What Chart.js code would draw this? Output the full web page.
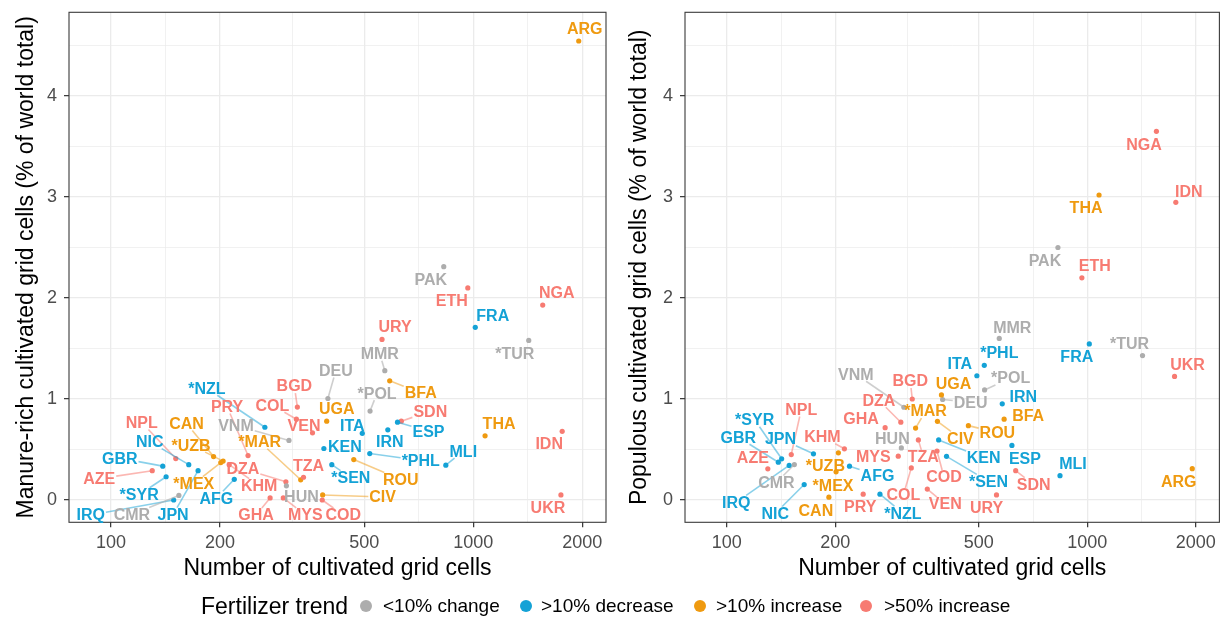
<!DOCTYPE html>
<html>
<head>
<meta charset="utf-8">
<script src="https://cdn.jsdelivr.net/npm/chart.js@4.4.1/dist/chart.umd.min.js"></script>
<style>
  html, body { margin: 0; padding: 0; background: #fff; overflow: hidden; }
  body { width: 1221px; height: 636px; position: relative; font-family: "Liberation Sans", Arial, sans-serif; }
  canvas { position: absolute; top: 0; }
  #manure-chart { left: 0; }
  #populous-chart { left: 612px; }
  #legend { position: absolute; left: 0; top: 593px; width: 1221px; height: 26px; }
  #legend span { position: absolute; top: 0; line-height: 26px; white-space: nowrap; }
  #legend .title { font-size: 23px; color: #000; }
  #legend .item { font-size: 19px; color: #000; }
  #legend .dot { width: 12px; height: 12px; border-radius: 50%; top: 7px; }
</style>
</head>
<body>
<canvas id="manure-chart" width="612" height="600"></canvas>
<canvas id="populous-chart" width="610" height="600"></canvas>
<div id="legend"></div>
<script>
// ---- data ----
const countries = ["ARG", "PAK", "ETH", "NGA", "FRA", "URY", "*TUR", "MMR", "DEU", "*NZL",
  "BGD", "*POL", "BFA", "PRY", "COL", "UGA", "SDN", "NPL", "CAN", "VNM",
  "VEN", "ITA", "THA", "ESP", "NIC", "*UZB", "*MAR", "KEN", "IRN", "IDN",
  "*PHL", "MLI", "GBR", "DZA", "TZA", "*SEN", "ROU", "AZE", "*MEX", "KHM",
  "HUN", "CIV", "*SYR", "AFG", "UKR", "IRQ", "CMR", "JPN", "GHA", "MYS", "COD"];

const cells = [1955, 829, 966, 1555, 1013, 560, 1423, 570, 397, 266,
  327, 519, 588, 239, 325, 394, 633, 151, 192, 310,
  360, 494, 1078, 618, 164, 204, 334, 387, 581, 1760,
  518, 840, 139, 304, 340, 407, 468, 130, 201, 212,
  305, 384, 142, 219, 1746, 149, 154, 174, 275, 299, 383];

// index into trendLabels
const trend = [2, 0, 3, 3, 1, 3, 0, 0, 0, 1,
  3, 0, 2, 3, 3, 2, 3, 3, 2, 0,
  3, 1, 2, 1, 1, 2, 2, 1, 1, 3,
  1, 1, 1, 3, 3, 1, 2, 3, 2, 3,
  0, 2, 1, 1, 3, 1, 0, 1, 3, 3, 3];

const manureShare = [4.545, 2.31, 2.10, 1.93, 1.71, 1.59, 1.58, 1.28, 1.005, 0.72,
  0.92, 0.88, 1.18, 0.44, 0.80, 0.78, 0.78, 0.41, 0.43, 0.59,
  0.665, 0.66, 0.635, 0.77, 0.35, 0.385, 0.20, 0.51, 0.695, 0.68,
  0.46, 0.345, 0.335, 0.18, 0.225, 0.35, 0.40, 0.29, 0.37, 0.35,
  0.14, 0.05, 0.23, 0.205, 0.05, 0.0, 0.045, 0.29, 0.02, 0.02, 0.0];

const populousShare = [0.31, 2.50, 2.20, 3.65, 1.545, 0.05, 1.43, 1.60, 0.995, 0.057,
  1.0, 1.09, 0.80, 0.057, 0.317, 1.04, 0.29, 0.45, 0.028, 0.918,
  0.108, 1.23, 3.02, 0.54, 0.153, 0.467, 0.712, 0.595, 0.952, 2.947,
  1.333, 0.241, 0.374, 0.77, 0.595, 0.432, 0.736, 0.309, 0.279, 0.507,
  0.515, 0.779, 0.408, 0.335, 1.223, 0.342, 0.351, 0.457, 0.716, 0.434, 0.485];

const trendLabels = ["<10% change", ">10% decrease", ">10% increase", ">50% increase"];
const xTickLabels = [100, 200, 500, 1000, 2000];
const yTickLabels = [0, 1, 2, 3, 4];

// ---- label placement (pixel offsets of each label from its point) ----
const manureLabelOffsets = [[6, -12], [-13, 13], [-16, 13], [14, -12], [17.5, -12], [13, -13], [-14, 13], [-5, -17], [8, -28], [-58, -39],
  [-3, -21], [7, -18], [31, 12], [-21, -49], [-24, -14], [10, -13], [29, -10], [-34, -36], [-27, -33], [-53, -15],
  [-8.5, -7], [-10, -8], [14, -12], [31, 9], [-39, -23], [-32, -16], [-41, -38], [21, -2], [2, 12], [-13, 12],
  [51, 7], [17.5, -14], [-43, -8], [-43, -13], [5, -12], [19, 13], [47, 20], [-53, 8], [-27, 21], [30, 21],
  [15, 10.5], [60, 2], [-27, 18], [-18, 19], [-13, 13], [-83, 15], [-47, 19], [-25, 44], [-14, 17], [22, 17], [21, 15]];

const populousLabelOffsets = [[-13.6, 12.7], [-13, 13], [13, -12], [-12.5, 13], [-12.5, 13], [-10, 12.7], [-13, -12], [13, -11], [28, 3], [23, 19],
  [-2, -18], [26, -12], [24, -4], [-3, 12], [-8, 27], [12, -11], [18, 14], [10, -45], [-13, 13], [-48, -33],
  [18, 15], [-17, -12], [-13, 13], [13, 13], [-29, 29], [-13, 13], [10, -17], [45, 18], [21, -7], [13, -11],
  [15, -13], [13, -12], [-40, -25], [-22, -22], [5, 17], [42, 25], [29, 7], [-15, -11], [-3, 14], [-22, -12],
  [-9, -9], [23, 17], [-27, -39], [28, 9], [13, -12], [-53, 37], [-18, 18], [-33, -15], [-24, -9], [-25, 0], [7, 26]];

// ---- styles ----
const trendColors = ["#ADADAD", "#14A2D6", "#EF9A10", "#F77B72"];
const segmentColors = ["rgba(173,173,173,0.6)", "rgba(20,162,214,0.5)", "rgba(239,154,16,0.5)", "rgba(247,123,114,0.55)"];
const FONT = '"Liberation Sans", Arial, sans-serif';

const xMinor = xTickLabels.slice(1).map((v, i) => Math.sqrt(v * xTickLabels[i]));
const yMinor = yTickLabels.map(v => v + 0.5);
const xTickValues = [...xTickLabels, ...xMinor].sort((a, b) => a - b);
const yTickValues = [...yTickLabels, ...yMinor].sort((a, b) => a - b);

// fixed axis box, no extra padding for edge tick labels
function fixAxis(ax, size) {
  if (ax.isHorizontal()) ax.height = size; else ax.width = size;
  ax.paddingTop = 0;
  ax.paddingBottom = 0;
  ax.paddingLeft = 0;
  ax.paddingRight = 0;
}

// panel border + country labels with leader segments
const repelLabels = {
  id: "repelLabels",
  beforeDatasetsDraw(chart) {
    const { ctx, chartArea: a } = chart;
    ctx.save();
    ctx.strokeStyle = "#3a3a3a";
    ctx.lineWidth = 1.1;
    ctx.strokeRect(a.left, a.top, a.right - a.left, a.bottom - a.top);
    ctx.restore();
  },
  afterDatasetsDraw(chart, args, opts) {
    const ctx = chart.ctx;
    const pts = chart.getDatasetMeta(0).data;
    ctx.save();
    ctx.font = "bold 16px " + FONT;
    ctx.textAlign = "center";
    ctx.textBaseline = "middle";
    const boxes = pts.map((p, i) => {
      const [dx, dy] = opts.offsets[i];
      const w = ctx.measureText(countries[i]).width;
      return { cx: p.x + dx, cy: p.y + dy, hw: w / 2 + 1, hh: 7 };
    });
    // segments first
    boxes.forEach((b, i) => {
      const p = pts[i];
      const vx = p.x - b.cx, vy = p.y - b.cy;
      const tx = Math.abs(vx) > 0 ? b.hw / Math.abs(vx) : Infinity;
      const ty = Math.abs(vy) > 0 ? b.hh / Math.abs(vy) : Infinity;
      const t = Math.min(tx, ty);
      if (t >= 1) return;
      const sx = b.cx + vx * t, sy = b.cy + vy * t;
      if (Math.hypot(p.x - sx, p.y - sy) < 10) return;
      ctx.strokeStyle = segmentColors[trend[i]];
      ctx.lineWidth = 1.6;
      ctx.beginPath();
      ctx.moveTo(sx, sy);
      ctx.lineTo(p.x, p.y);
      ctx.stroke();
    });
    boxes.forEach((b, i) => {
      ctx.fillStyle = trendColors[trend[i]];
      ctx.fillText(countries[i], b.cx, b.cy + 1);
    });
    ctx.restore();
  }
};

function makeChart(id, shares, offsets, yTitle, yAxisWidth, rightPad, yTitlePad) {
  return new Chart(document.getElementById(id), {
    type: "scatter",
    data: {
      datasets: [{
        data: cells.map((c, i) => ({ x: c, y: shares[i] })),
        pointBackgroundColor: trend.map(t => trendColors[t]),
        pointBorderWidth: 0,
        pointRadius: 2.6,
        pointHoverRadius: 2.6
      }]
    },
    options: {
      responsive: false,
      animation: false,
      events: [],
      layout: { padding: { top: 12.3, right: rightPad, bottom: 0, left: 0 } },
      plugins: {
        legend: { display: false },
        tooltip: { enabled: false },
        repelLabels: { offsets }
      },
      scales: {
        x: {
          type: "logarithmic",
          min: 76.6,
          max: 2325,
          bounds: "data",
          afterBuildTicks: ax => { ax.ticks = xTickValues.map(v => ({ value: v })); },
          afterFit: ax => fixAxis(ax, 77.7),
          border: { display: false },
          grid: {
            color: "#ebebeb",
            lineWidth: c => xTickLabels.includes(c.tick.value) ? 1.3 : 0.7,
            tickColor: c => xTickLabels.includes(c.tick.value) ? "#333" : "rgba(0,0,0,0)",
            tickWidth: 1.2,
            tickLength: 5
          },
          ticks: {
            autoSkip: false,
            maxRotation: 0,
            padding: 4.6,
            color: "#4d4d4d",
            font: { size: 18, family: FONT },
            callback: v => xTickLabels.includes(v) ? String(v) : ""
          },
          title: {
            display: true,
            text: "Number of cultivated grid cells",
            color: "#000",
            font: { size: 23, family: FONT },
            padding: { top: 0, bottom: 17.2 }
          }
        },
        y: {
          type: "linear",
          min: -0.221,
          max: 4.829,
          bounds: "data",
          afterBuildTicks: ax => { ax.ticks = yTickValues.map(v => ({ value: v })); },
          afterFit: ax => fixAxis(ax, yAxisWidth),
          border: { display: false },
          grid: {
            color: "#ebebeb",
            lineWidth: c => yTickLabels.includes(c.tick.value) ? 1.3 : 0.7,
            tickColor: c => yTickLabels.includes(c.tick.value) ? "#333" : "rgba(0,0,0,0)",
            tickWidth: 1.2,
            tickLength: 5
          },
          ticks: {
            autoSkip: false,
            padding: 7,
            color: "#4d4d4d",
            font: { size: 18, family: FONT },
            callback: v => yTickLabels.includes(v) ? String(v) : ""
          },
          title: {
            display: true,
            text: yTitle,
            color: "#000",
            font: { size: 23, family: FONT },
            padding: { top: yTitlePad, bottom: 0 }
          }
        }
      }
    },
    plugins: [repelLabels]
  });
}

makeChart("manure-chart", manureShare, manureLabelOffsets,
  "Manure-rich cultivated grid cells (% of world total)", 69, 6, 13.2);
makeChart("populous-chart", populousShare, populousLabelOffsets,
  "Populous cultivated grid cells (% of world total)", 73, 0, 14.2);

// legend
const legend = document.getElementById("legend");
const legendTitle = document.createElement("span");
legendTitle.className = "title";
legendTitle.textContent = "Fertilizer trend";
legendTitle.style.right = (1221 - 348) + "px";
legend.appendChild(legendTitle);
const dotCentres = [366, 526, 700, 866];
const textLefts = [383, 541, 716, 884];
trendLabels.forEach((lab, i) => {
  const dot = document.createElement("span");
  dot.className = "dot";
  dot.style.left = (dotCentres[i] - 6) + "px";
  dot.style.background = trendColors[i];
  legend.appendChild(dot);
  const txt = document.createElement("span");
  txt.className = "item";
  txt.textContent = lab;
  txt.style.left = textLefts[i] + "px";
  legend.appendChild(txt);
});
</script>
</body>
</html>
